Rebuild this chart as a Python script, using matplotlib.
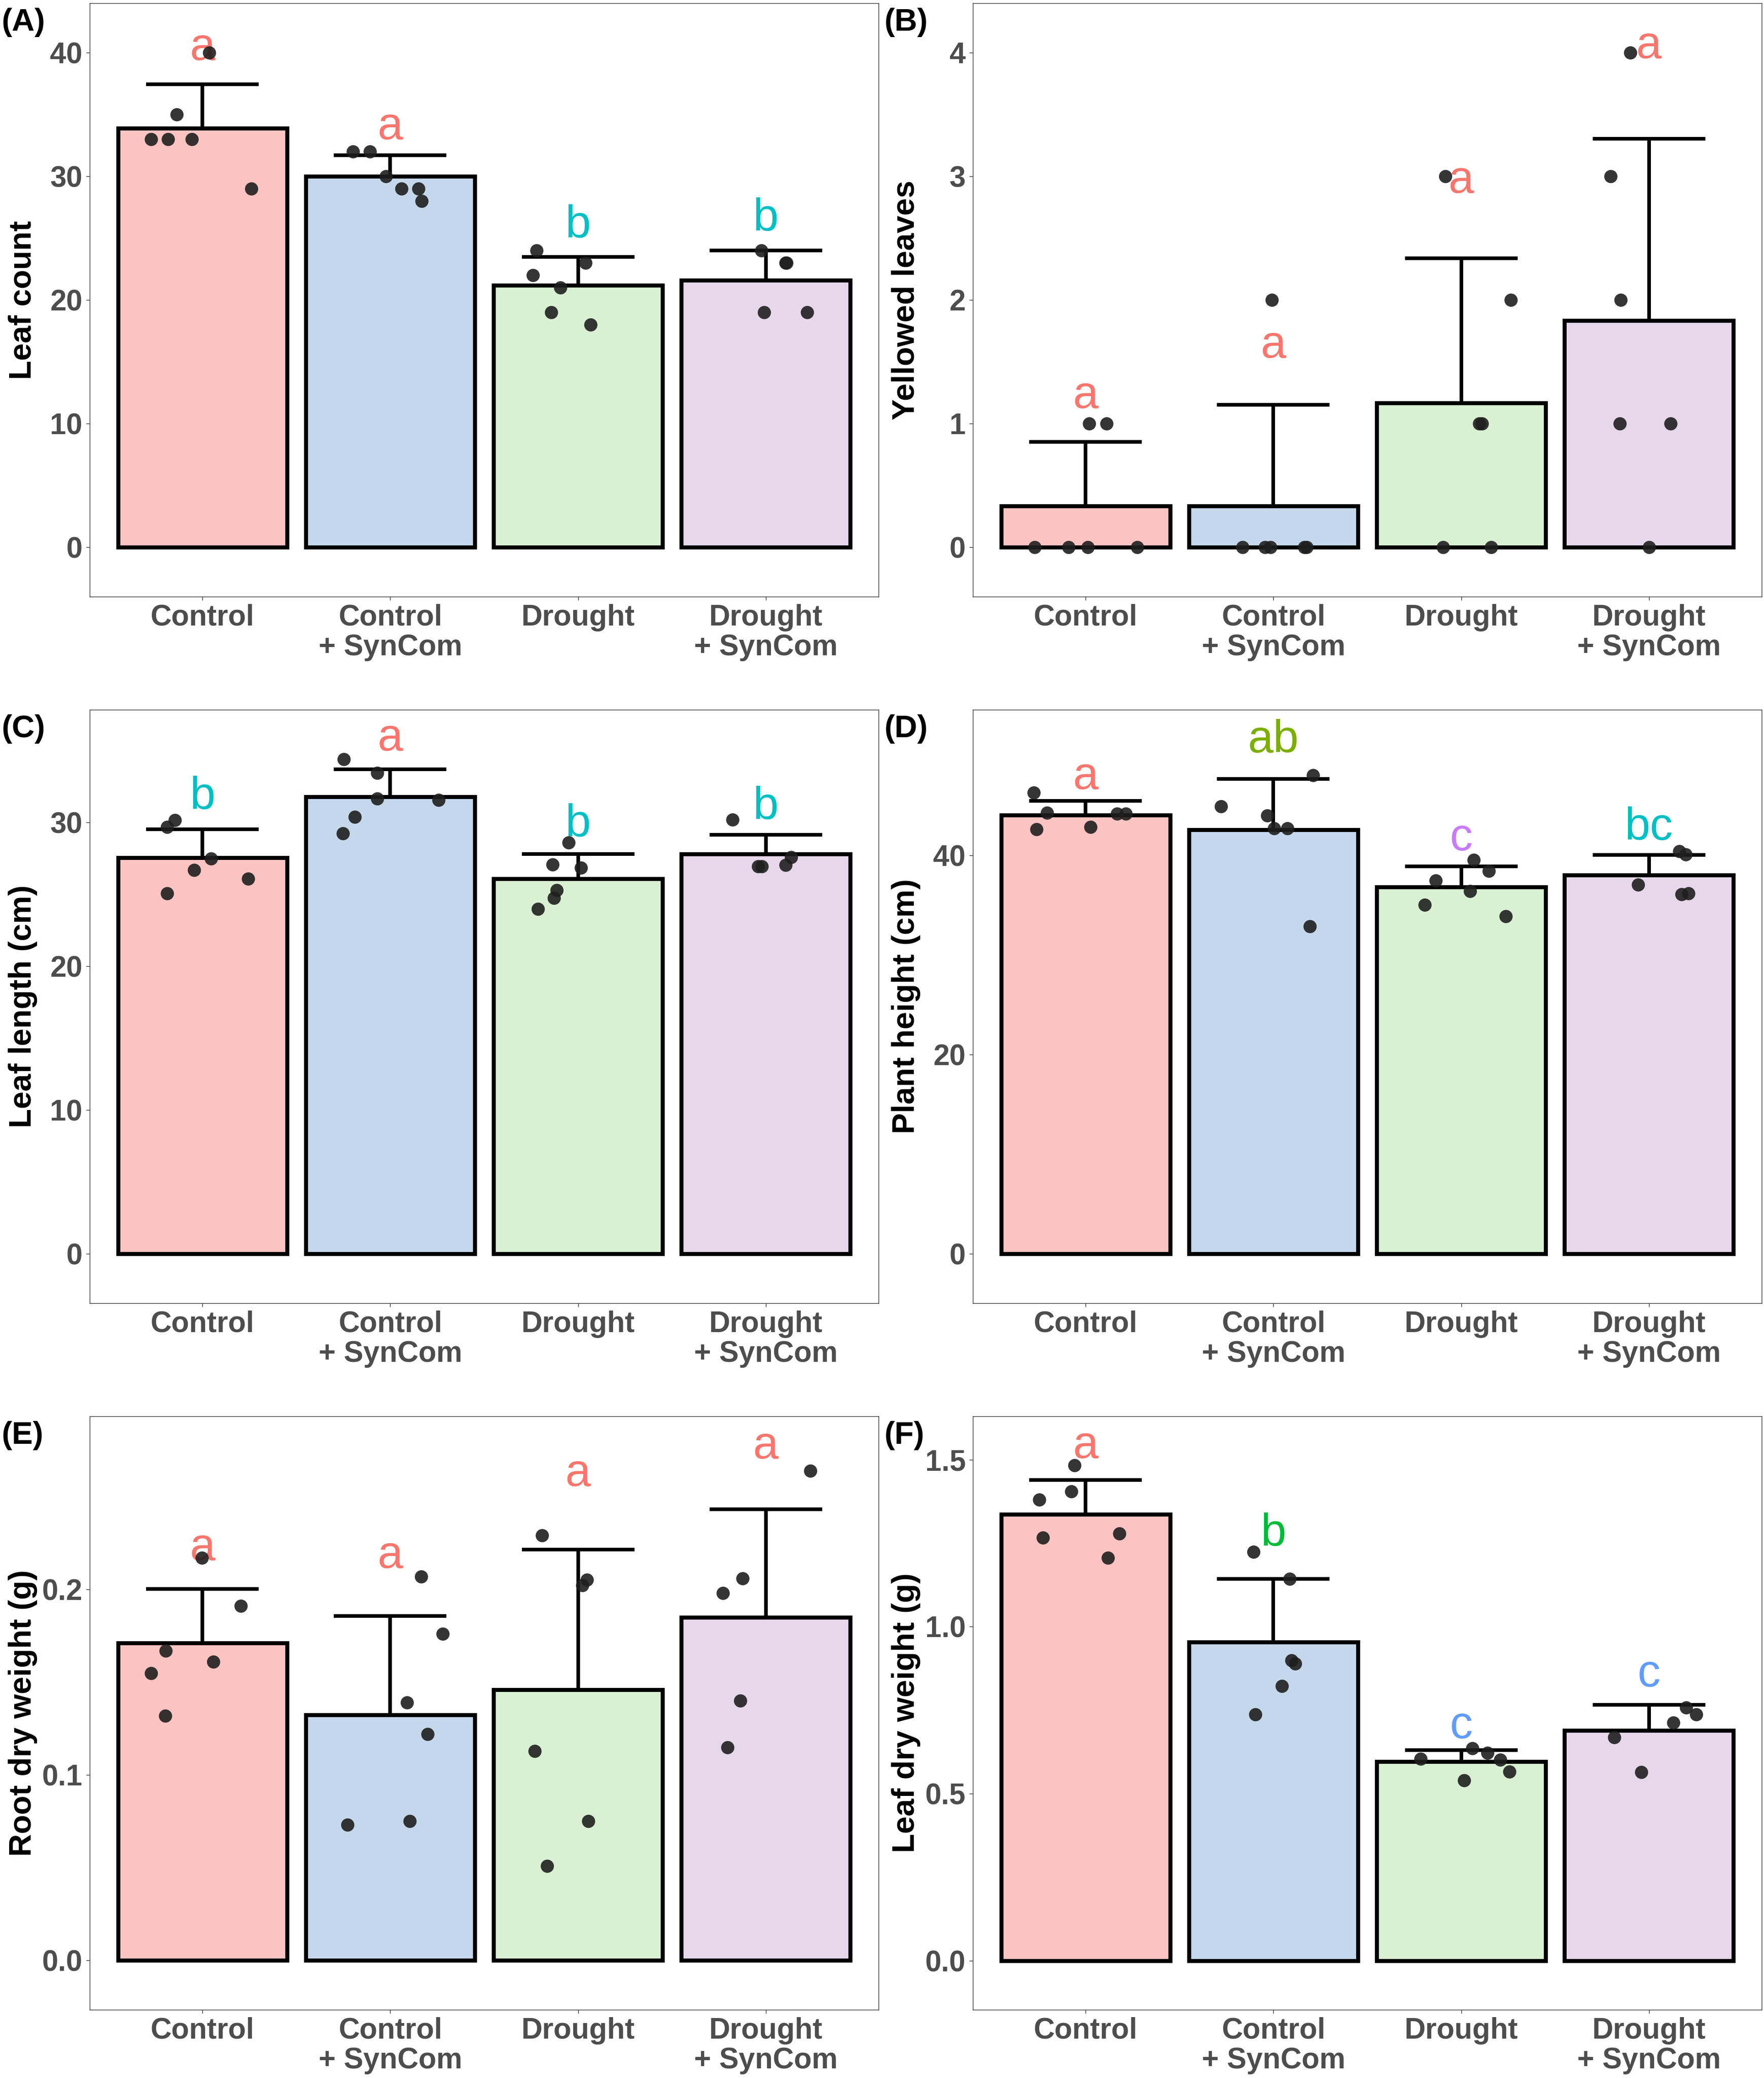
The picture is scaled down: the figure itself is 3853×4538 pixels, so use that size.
#!/usr/bin/env python3

import numpy as np
from matplotlib import pyplot as plt

# * Configuration

plt.rcParams['font.family'] = ['Liberation Sans', 'DejaVu Sans']

FIG_W, FIG_H = 3853, 4538
DPI = 300

GROUPS = ["Control", "Control\n+ SynCom", "Drought", "Drought\n+ SynCom"]
FILLS = ["#FBC4C2", "#C5D7EB", "#D9F0D3", "#E6D7EA"]

# * Data

# (A) Leaf count
A_MEAN = [33.9, 30.0, 21.2, 21.6]
A_SD = [3.55, 1.7, 2.3, 2.4]
A_PTS = [[40, 35, 33, 33, 33, 29],
         [32, 32, 30, 29, 29, 28],
         [24, 22, 21, 23, 19, 18],
         [24, 23, 23, 19, 19]]
A_JIT = [[0.036, -0.138, -0.273, -0.183, -0.057, 0.261],
         [-0.198, -0.108, -0.024, 0.06, 0.15, 0.168],
         [-0.222, -0.24, -0.093, 0.039, -0.144, 0.066],
         [-0.024, 0.105, 0.111, -0.009, 0.219]]
A_LET = ["a", "a", "b", "b"]
A_LET_Y = [39.4, 33.0, 25.05, 25.6]
A_LET_C = ["#F8766D", "#F8766D", "#00BFC4", "#00BFC4"]

# (B) Yellowed leaves
B_MEAN = [0.333, 0.333, 1.167, 1.833]
B_SD = [0.52, 0.82, 1.17, 1.47]
B_PTS = [[0, 0, 0, 0, 1, 1],
         [0, 0, 0, 0, 0, 2],
         [3, 2, 1, 1, 0, 0],
         [4, 3, 2, 1, 1, 0]]
B_JIT = [[-0.27, -0.09, 0.012, 0.276, 0.018, 0.111],
         [-0.165, -0.045, -0.015, 0.165, 0.177, -0.009],
         [-0.084, 0.264, 0.096, 0.111, -0.096, 0.159],
         [-0.099, -0.204, -0.15, -0.156, 0.114, 0.0]]
B_LET = ["a", "a", "a", "a"]
B_LET_Y = [1.125, 1.534, 2.865, 3.955]
B_LET_C = ["#F8766D"] * 4

# (C) Leaf length (cm)
C_MEAN = [27.55, 31.8, 26.1, 27.8]
C_SD = [2.0, 1.9, 1.7, 1.35]
C_PTS = [[30.18, 29.7, 27.48, 26.69, 26.09, 25.07],
         [34.4, 33.46, 31.66, 31.57, 30.39, 29.25],
         [28.62, 27.08, 26.87, 25.31, 24.77, 23.98],
         [30.21, 27.6, 26.96, 26.96, 27.05]]
C_JIT = [[-0.147, -0.189, 0.045, -0.045, 0.243, -0.189],
         [-0.246, -0.069, -0.069, 0.258, -0.189, -0.252],
         [-0.051, -0.135, 0.015, -0.114, -0.129, -0.213],
         [-0.177, 0.135, -0.042, -0.021, 0.105]]
C_LET = ["b", "a", "b", "b"]
C_LET_Y = [30.94, 35.0, 29.04, 30.24]
C_LET_C = ["#00BFC4", "#F8766D", "#00BFC4", "#00BFC4"]

# (D) Plant height (cm)
D_MEAN = [44.05, 42.55, 36.8, 38.0]
D_SD = [1.4, 5.1, 2.1, 2.05]
D_PTS = [[46.29, 44.25, 42.6, 42.82, 44.16, 44.16],
         [48.03, 44.9, 43.99, 42.69, 42.69, 32.88],
         [39.52, 38.44, 37.48, 36.4, 35.01, 33.88],
         [40.39, 40.09, 37.05, 36.1, 36.18]]
D_JIT = [[-0.276, -0.204, -0.261, 0.027, 0.168, 0.213],
         [0.21, -0.279, -0.033, 0.003, 0.075, 0.195],
         [0.066, 0.147, -0.135, 0.048, -0.195, 0.237],
         [0.162, 0.195, -0.057, 0.174, 0.21]]
D_LET = ["a", "ab", "c", "bc"]
D_LET_Y = [46.64, 50.33, 40.48, 41.56]
D_LET_C = ["#F8766D", "#7CAE00", "#C77CFF", "#00BFC4"]

# (E) Root dry weight (g)
E_MEAN = [0.171, 0.1323, 0.146, 0.1848]
E_SD = [0.0293, 0.0534, 0.0755, 0.0584]
E_PTS = [[0.2171, 0.191, 0.167, 0.161, 0.1547, 0.1319],
         [0.2069, 0.176, 0.139, 0.1219, 0.0751, 0.073],
         [0.2291, 0.2051, 0.2023, 0.1129, 0.0751, 0.0508],
         [0.264, 0.206, 0.1979, 0.14, 0.1148]]
E_JIT = [[-0.003, 0.204, -0.195, 0.057, -0.273, -0.198],
         [0.165, 0.279, 0.09, 0.198, 0.105, -0.228],
         [-0.192, 0.048, 0.024, -0.231, 0.054, -0.165],
         [0.237, -0.123, -0.228, -0.135, -0.204]]
E_LET = ["a", "a", "a", "a"]
E_LET_Y = [0.2157, 0.2115, 0.2557, 0.2707]
E_LET_C = ["#F8766D"] * 4

# (F) Leaf dry weight (g)
F_MEAN = [1.337, 0.954, 0.596, 0.690]
F_SD = [0.103, 0.189, 0.0345, 0.0767]
F_PTS = [[1.483, 1.405, 1.3805, 1.279, 1.266, 1.206],
         [1.224, 1.143, 0.899, 0.889, 0.822, 0.737],
         [0.6357, 0.6216, 0.6049, 0.6023, 0.5663, 0.5406],
         [0.7577, 0.7371, 0.7127, 0.669, 0.565]]
F_JIT = [[-0.06, -0.075, -0.246, 0.18, -0.228, 0.12],
         [-0.105, 0.087, 0.096, 0.117, 0.045, -0.096],
         [0.06, 0.141, -0.216, 0.207, 0.258, 0.015],
         [0.198, 0.252, 0.129, -0.186, -0.042]]
F_LET = ["a", "b", "c", "c"]
F_LET_Y = [1.505, 1.242, 0.6665, 0.8206]
F_LET_C = ["#F8766D", "#00BA38", "#619CFF", "#619CFF"]

PANELS = [
    ("(A)", "Leaf count", A_MEAN, A_SD, A_PTS, A_JIT, A_LET, A_LET_Y, A_LET_C,
     [0, 10, 20, 30, 40], ["0", "10", "20", "30", "40"], (-4.0, 44.0)),
    ("(B)", "Yellowed leaves", B_MEAN, B_SD, B_PTS, B_JIT, B_LET, B_LET_Y, B_LET_C,
     [0, 1, 2, 3, 4], ["0", "1", "2", "3", "4"], (-0.4, 4.4)),
    ("(C)", "Leaf length (cm)", C_MEAN, C_SD, C_PTS, C_JIT, C_LET, C_LET_Y, C_LET_C,
     [0, 10, 20, 30], ["0", "10", "20", "30"], (-3.44, 37.85)),
    ("(D)", "Plant height (cm)", D_MEAN, D_SD, D_PTS, D_JIT, D_LET, D_LET_Y, D_LET_C,
     [0, 20, 40], ["0", "20", "40"], (-4.95, 54.6)),
    ("(E)", "Root dry weight (g)", E_MEAN, E_SD, E_PTS, E_JIT, E_LET, E_LET_Y, E_LET_C,
     [0.0, 0.1, 0.2], ["0.0", "0.1", "0.2"], (-0.0267, 0.2933)),
    ("(F)", "Leaf dry weight (g)", F_MEAN, F_SD, F_PTS, F_JIT, F_LET, F_LET_Y, F_LET_C,
     [0.0, 0.5, 1.0, 1.5], ["0.0", "0.5", "1.0", "1.5"], (-0.147, 1.63)),
]

# Layout in pixels
COL_LEFT = [196, 2125]
AX_W = 1723
ROW_TOP = [7, 1550, 3093]
AX_H = 1296
TAG_X = [4, 1932]

# * Plot

def draw_panel(ax, mean, sd, pts, jit, letters, let_y, let_c, yticks, yticklabels, ylim, ylabel):
    x = np.arange(len(GROUPS))
    ax.bar(x, mean, width=0.9, color=FILLS, edgecolor="black", linewidth=2.1, zorder=2)
    tops = np.array(mean) + np.array(sd)
    ax.vlines(x, mean, tops, color="black", linewidth=1.9, zorder=3)
    ax.hlines(tops, x - 0.3, x + 0.3, color="black", linewidth=1.9, zorder=3)
    for i in range(len(GROUPS)):
        ax.text(x[i], let_y[i], letters[i], color=let_c[i], fontsize=24,
                ha="center", va="baseline", zorder=4)
        px = x[i] + np.array(jit[i])
        ax.scatter(px, pts[i], s=48, color="#1f1f1f", alpha=0.9, linewidths=0, zorder=5)
    ax.set_xlim(-0.6, 3.6)
    ax.set_ylim(*ylim)
    ax.set_xticks(x)
    ax.set_xticklabels(GROUPS, linespacing=1.12)
    ax.set_yticks(yticks)
    ax.set_yticklabels(yticklabels)
    for lab in ax.get_xticklabels() + ax.get_yticklabels():
        lab.set_fontweight("bold")
        lab.set_color("#4D4D4D")
        lab.set_fontsize(15.3)
    ax.tick_params(axis="both", length=2.0, width=0.35, color="#333333", pad=1.8)
    for sp in ax.spines.values():
        sp.set_linewidth(0.35)
        sp.set_color("#333333")
    ax.set_ylabel(ylabel, fontsize=16.5, fontweight="bold", color="black", va="center")
    ax.yaxis.set_label_coords(-0.085, 0.5)


fig = plt.figure(figsize=(FIG_W / DPI, FIG_H / DPI), dpi=DPI)

for idx, panel in enumerate(PANELS):
    tag, ylabel, mean, sd, pts, jit, letters, let_y, let_c, yticks, ytl, ylim = panel
    row, col = idx // 2, idx % 2
    left = COL_LEFT[col] / FIG_W
    bottom = 1 - (ROW_TOP[row] + AX_H) / FIG_H
    ax = fig.add_axes([left, bottom, AX_W / FIG_W, AX_H / FIG_H])
    draw_panel(ax, mean, sd, pts, jit, letters, let_y, let_c, yticks, ytl, ylim, ylabel)
    fig.text(TAG_X[col] / FIG_W, 1 - (ROW_TOP[row] + 42) / FIG_H, tag,
             fontsize=16.5, fontweight="bold", ha="left", va="center")

fig.savefig("out.png", dpi=DPI, facecolor="white")
